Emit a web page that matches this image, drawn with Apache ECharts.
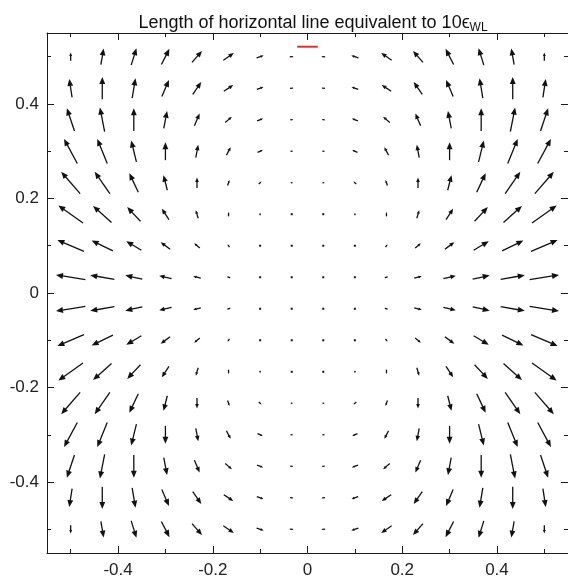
<!DOCTYPE html>
<html>
<head>
<meta charset="utf-8">
<script src="https://cdn.jsdelivr.net/npm/echarts@6/dist/echarts.min.js"></script>
<style>
  html, body { margin: 0; padding: 0; background: #fff; }
  #main { width: 568px; height: 581px; }
</style>
</head>
<body>
<div id="main"></div>
<script>
// grid positions of the arrows (16 x 16)
var xs = [-0.5, -0.4333, -0.3667, -0.3, -0.2333, -0.1667, -0.1, -0.0333,
          0.0333, 0.1, 0.1667, 0.2333, 0.3, 0.3667, 0.4333, 0.5];
var ys = [0.5, 0.4333, 0.3667, 0.3, 0.2333, 0.1667, 0.1, 0.0333,
          -0.0333, -0.1, -0.1667, -0.2333, -0.3, -0.3667, -0.4333, -0.5];

// arrow components (data units), one row per ys entry, one column per xs entry
var U = [
  [0, .006, .011, .017, .021, .022, .015, .008, -.008, -.015, -.022, -.021, -.017, -.011, -.006, 0],
  [-.006, 0, .007, .015, .018, .020, .014, .007, -.007, -.014, -.020, -.018, -.015, -.007, 0, .006],
  [-.016, -.010, 0, .007, .011, .014, .013, .006, -.006, -.013, -.014, -.011, -.007, 0, .010, .016],
  [-.028, -.021, -.011, 0, .005, .009, .011, .005, -.005, -.011, -.009, -.005, 0, .011, .021, .028],
  [-.040, -.032, -.019, -.008, 0, .004, .006, .004, -.004, -.006, -.004, 0, .008, .019, .032, .040],
  [-.052, -.039, -.028, -.015, -.005, 0, .002, .002, -.002, -.002, 0, .005, .015, .028, .039, .052],
  [-.056, -.045, -.032, -.020, -.012, -.004, 0, .001, -.001, 0, .004, .012, .020, .032, .045, .056],
  [-.062, -.051, -.036, -.026, -.016, -.007, -.003, -.001, .001, .003, .007, .016, .026, .036, .051, .062],
  [-.062, -.051, -.036, -.026, -.016, -.007, -.003, -.001, .001, .003, .007, .016, .026, .036, .051, .062],
  [-.056, -.045, -.032, -.020, -.012, -.004, 0, .001, -.001, 0, .004, .012, .020, .032, .045, .056],
  [-.052, -.039, -.028, -.015, -.005, 0, .002, .002, -.002, -.002, 0, .005, .015, .028, .039, .052],
  [-.040, -.032, -.019, -.008, 0, .004, .006, .004, -.004, -.006, -.004, 0, .008, .019, .032, .040],
  [-.028, -.021, -.011, 0, .005, .009, .011, .005, -.005, -.011, -.009, -.005, 0, .011, .021, .028],
  [-.016, -.010, 0, .007, .011, .014, .013, .006, -.006, -.013, -.014, -.011, -.007, 0, .010, .016],
  [-.006, 0, .007, .015, .018, .020, .014, .007, -.007, -.014, -.020, -.018, -.015, -.007, 0, .006],
  [0, .006, .011, .017, .021, .022, .015, .008, -.008, -.015, -.022, -.021, -.017, -.011, -.006, 0]
];
var V = [
  [.017, .034, .036, .033, .024, .015, .005, .001, .001, .005, .015, .024, .033, .036, .034, .017],
  [.039, .047, .042, .035, .026, .013, .005, .001, .001, .005, .013, .026, .035, .042, .047, .039],
  [.048, .051, .048, .037, .026, .012, .005, .001, .001, .005, .012, .026, .037, .048, .051, .048],
  [.052, .052, .045, .038, .027, .017, .005, .001, .001, .005, .017, .027, .038, .045, .052, .052],
  [.046, .046, .040, .032, .022, .012, .005, .001, .001, .005, .012, .022, .032, .040, .046, .046],
  [.037, .035, .030, .023, .017, .009, .004, .001, .001, .004, .009, .017, .023, .030, .035, .037],
  [.024, .022, .019, .015, .010, .006, .003, .001, .001, .003, .006, .010, .015, .019, .022, .024],
  [.010, .009, .008, .006, .004, .002, .001, 0, 0, .001, .002, .004, .006, .008, .009, .010],
  [-.010, -.009, -.008, -.006, -.004, -.002, -.001, 0, 0, -.001, -.002, -.004, -.006, -.008, -.009, -.010],
  [-.024, -.022, -.019, -.015, -.010, -.006, -.003, -.001, -.001, -.003, -.006, -.010, -.015, -.019, -.022, -.024],
  [-.037, -.035, -.030, -.023, -.017, -.009, -.004, -.001, -.001, -.004, -.009, -.017, -.023, -.030, -.035, -.037],
  [-.046, -.046, -.040, -.032, -.022, -.012, -.005, -.001, -.001, -.005, -.012, -.022, -.032, -.040, -.046, -.046],
  [-.052, -.052, -.045, -.038, -.027, -.017, -.005, -.001, -.001, -.005, -.017, -.027, -.038, -.045, -.052, -.052],
  [-.048, -.051, -.048, -.037, -.026, -.012, -.005, -.001, -.001, -.005, -.012, -.026, -.037, -.048, -.051, -.048],
  [-.039, -.047, -.042, -.035, -.026, -.013, -.005, -.001, -.001, -.005, -.013, -.026, -.035, -.042, -.047, -.039],
  [-.017, -.034, -.036, -.033, -.024, -.015, -.005, -.001, -.001, -.005, -.015, -.024, -.033, -.036, -.034, -.017]
];

// reference bar (10 eps_WL) drawn in red above the field
var refX = [-0.0217, 0.0217];
var refY = [0.521, 0.521];

var majorTicks = [-0.4, -0.2, 0, 0.2, 0.4];
var minorTicks = [-0.5, -0.3, -0.1, 0.1, 0.3, 0.5];

var data = [];
for (var j = 0; j < ys.length; j++) {
  for (var i = 0; i < xs.length; i++) {
    data.push([xs[i], ys[j], U[j][i], V[j][i]]);
  }
}

var FONT = '"Liberation Sans", Arial, Helvetica, sans-serif';
var gridBox = { left: 47, right: 0, top: 33, bottom: 28 };

function axis(pos, grid, ticks, len, labels, margin) {
  return {
    type: 'value', gridIndex: grid, position: pos,
    min: -0.55, max: 0.55,
    axisLine: { show: grid === 0, onZero: false, lineStyle: { color: '#1a1a1a', width: 1 } },
    axisTick: { show: true, inside: true, length: len, customValues: ticks,
                lineStyle: { color: '#1a1a1a', width: 1 } },
    axisLabel: { show: !!labels, customValues: ticks, margin: margin || 8,
                 color: '#222', fontSize: 17, fontFamily: FONT },
    splitLine: { show: false }
  };
}

var chart = echarts.init(document.getElementById('main'), null, { renderer: 'canvas' });

chart.setOption({
  animation: false,
  backgroundColor: '#fff',
  title: {
    text: '{t|Length of horizontal line equivalent to 10ϵ}{s|WL}',
    left: 308, top: 8, textAlign: 'center',
    textStyle: {
      fontWeight: 'normal',
      rich: {
        t: { fontSize: 18, fontFamily: FONT, color: '#111', fontWeight: 'normal' },
        s: { fontSize: 12, fontFamily: FONT, color: '#111', fontWeight: 'normal', padding: [9, 0, 0, 0] }
      }
    }
  },
  grid: [
    Object.assign({}, gridBox),
    Object.assign({}, gridBox)
  ],
  xAxis: [
    axis('bottom', 0, majorTicks, 7, true, 9),
    axis('top', 0, majorTicks, 7, false),
    axis('bottom', 1, minorTicks, 4, false),
    axis('top', 1, minorTicks, 4, false)
  ],
  yAxis: [
    axis('left', 0, majorTicks, 7, true, 8),
    axis('right', 0, majorTicks, 7, false),
    axis('left', 1, minorTicks, 4, false),
    axis('right', 1, minorTicks, 4, false)
  ],
  series: [
    {
      type: 'custom',
      xAxisIndex: 0, yAxisIndex: 0,
      data: data,
      encode: { x: 0, y: 1 },
      silent: true,
      renderItem: function (params, api) {
        var x = api.value(0), y = api.value(1), u = api.value(2), v = api.value(3);
        var p0 = api.coord([x - u / 2, y - v / 2]);
        var p1 = api.coord([x + u / 2, y + v / 2]);
        var dx = p1[0] - p0[0], dy = p1[1] - p0[1];
        var len = Math.sqrt(dx * dx + dy * dy);
        if (len < 1.6) {
          // tiny vector: just a dot
          var c = api.coord([x, y]);
          return { type: 'rect', shape: { x: c[0] - 1, y: c[1] - 1, width: 2, height: 2 },
                   style: { fill: '#111' } };
        }
        var ux = dx / len, uy = dy / len;
        var hl = Math.min(7, len * 0.42), hw = hl * 0.42;
        var bx = p1[0] - ux * hl, by = p1[1] - uy * hl;
        return {
          type: 'group',
          children: [
            { type: 'line', shape: { x1: p0[0], y1: p0[1], x2: bx + ux * 0.5, y2: by + uy * 0.5 },
              style: { stroke: '#111', lineWidth: 1.3 } },
            { type: 'polygon',
              shape: { points: [[p1[0], p1[1]], [bx - uy * hw, by + ux * hw], [bx + uy * hw, by - ux * hw]] },
              style: { fill: '#111' } }
          ]
        };
      }
    },
    {
      type: 'line',
      xAxisIndex: 0, yAxisIndex: 0,
      data: [[refX[0], refY[0]], [refX[1], refY[1]]],
      symbol: 'none',
      silent: true,
      lineStyle: { color: '#e42e2a', width: 2 }
    }
  ]
});
</script>
</body>
</html>
